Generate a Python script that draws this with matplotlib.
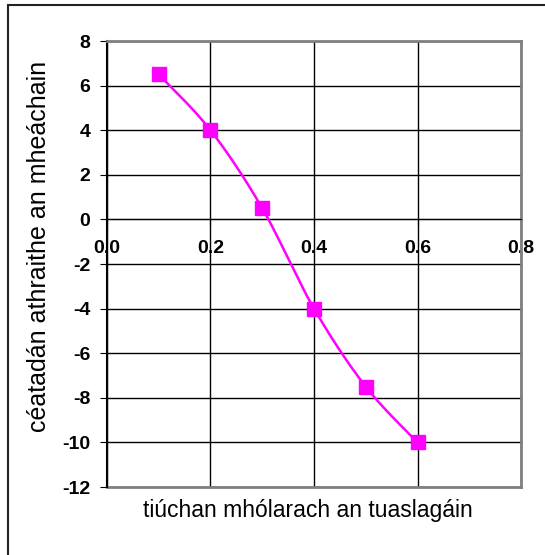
import numpy as np
import matplotlib
matplotlib.use('Agg')
import matplotlib.pyplot as plt
from matplotlib.patches import Rectangle

# data
conc = [0.1, 0.2, 0.3, 0.4, 0.5, 0.6]
pct_change = [6.5, 4.0, 0.5, -4.0, -7.5, -10.0]
x_ticks = [0.0, 0.2, 0.4, 0.6, 0.8]
y_ticks = [-12, -10, -8, -6, -4, -2, 0, 2, 4, 6, 8]

plt.rcParams['font.family'] = ['Liberation Sans', 'DejaVu Sans']


# smooth line like Excel (Catmull-Rom through the points)
def smooth(xs, ys, n=30):
    p = np.column_stack([xs, ys])
    p = np.vstack([p[0], p, p[-1]])
    out = []
    for i in range(1, len(p) - 2):
        p0, p1, p2, p3 = p[i - 1], p[i], p[i + 1], p[i + 2]
        t = np.linspace(0, 1, n)[:, None]
        c = 0.5 * ((2 * p1) + (-p0 + p2) * t + (2 * p0 - 5 * p1 + 4 * p2 - p3) * t**2
                   + (-p0 + 3 * p1 - 3 * p2 + p3) * t**3)
        out.append(c)
    out = np.vstack(out)
    return out[:, 0], out[:, 1]


fig = plt.figure(figsize=(5.45, 5.55), dpi=100)
ax = fig.add_axes([0.1963, 0.1225, 0.7597, 0.8036])

sx, sy = smooth(conc, pct_change)
ax.plot(sx, sy, color='#ff00ff', lw=1.8, zorder=3)
ax.plot(conc, pct_change, ls='none', marker='s', ms=10, color='#ff00ff', zorder=4)

# x axis crosses at y=0 (set before tick labels, it resets the ticks)
ax.spines['bottom'].set_position(('data', 0))

ax.set_xlim(0, 0.8)
ax.set_ylim(-12, 8)
ax.set_xticks(x_ticks)
ax.set_yticks(y_ticks)
ax.set_xticklabels(['%.1f' % v for v in x_ticks], fontweight='bold', fontsize=14)
ax.set_yticklabels([str(v) for v in y_ticks], fontweight='bold', fontsize=14)

ax.grid(True, color='black', lw=1)
ax.set_axisbelow(True)

ax.spines['bottom'].set_color('black')
ax.spines['left'].set_color('black')
ax.spines['left'].set_linewidth(1.5)
for s in ['top', 'right']:
    ax.spines[s].set_color('#808080')
    ax.spines[s].set_linewidth(2)
ax.axhline(-12, color='#808080', lw=2, clip_on=False)

ax.tick_params(axis='x', direction='out', length=4, pad=11)
ax.tick_params(axis='y', direction='out', length=5, pad=7)

fig.text(39 / 545, 1 - 246 / 555, 'céatadán athraithe an mheáchain', rotation=90,
         ha='center', va='center', fontsize=18)
fig.text(308 / 545, 1 - 510 / 555, 'tiúchan mhólarach an tuaslagáin',
         ha='center', va='center', fontsize=16.5)

fig.patches.append(Rectangle((8 / 545, -0.05), 1.1, 1 - 5 / 555 + 0.05, transform=fig.transFigure,
                             fill=False, edgecolor='#222222', lw=1.5))

fig.savefig('out.png', dpi=100)
